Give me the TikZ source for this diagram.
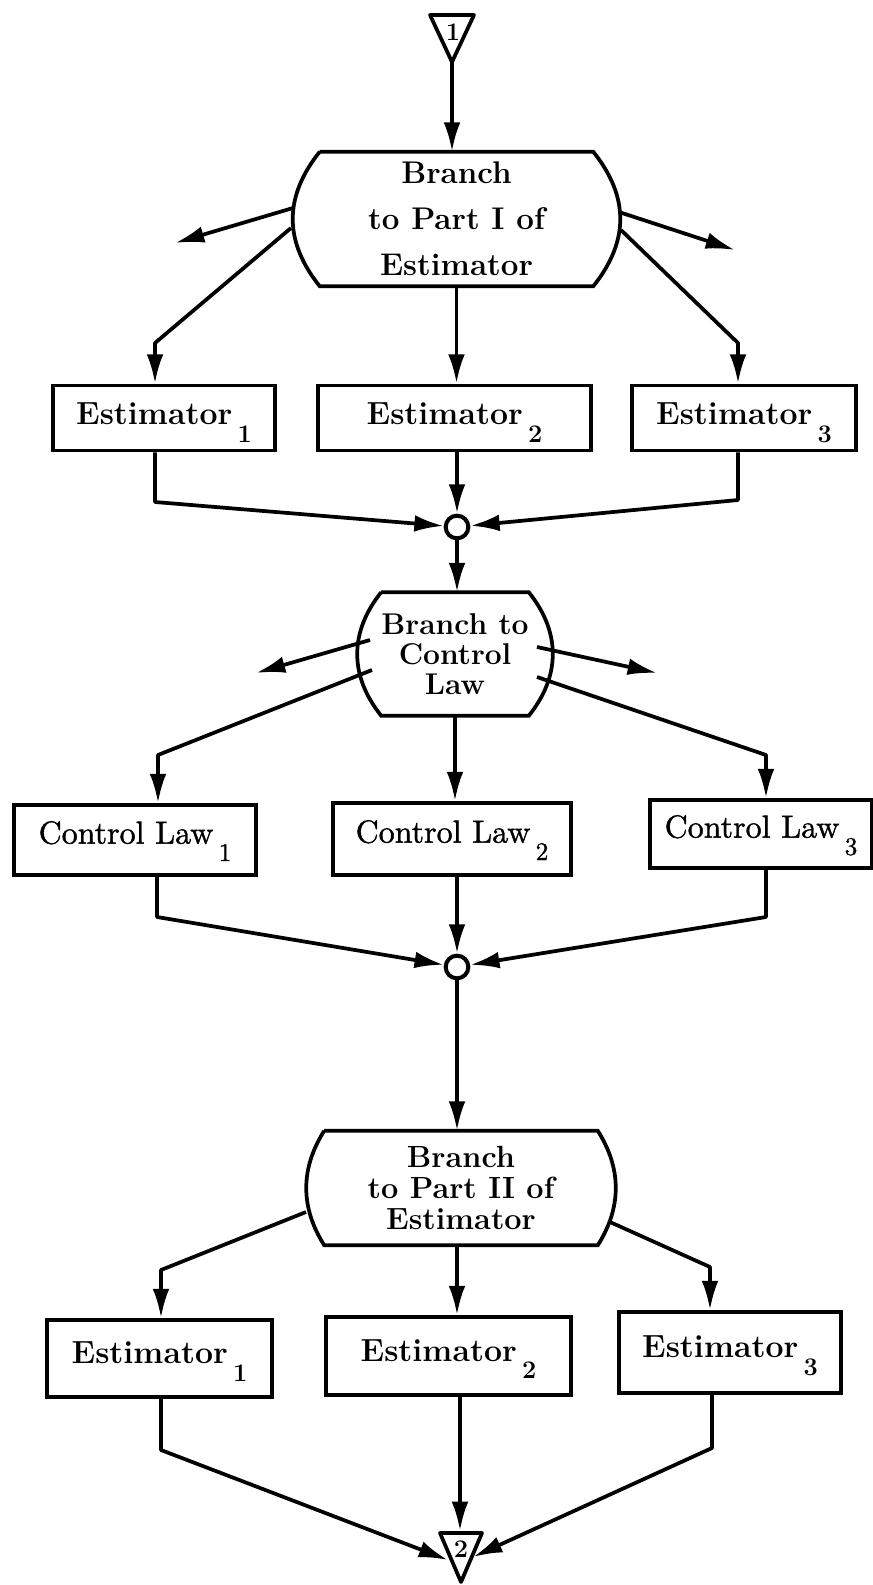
\documentclass[tikz,border=0pt]{standalone}
\usepackage{fontspec}
\newfontfamily\cfam{lmroman10-regular.otf}[FakeBold=1.2]
\usetikzlibrary{arrows.meta,calc}
\newcommand\lsub[1]{\hspace{4pt}\raisebox{-13pt}{\fontsize{19}{19}\selectfont #1}}
\tikzset{
  ln/.style={line width=2.8pt, line join=round},
  arr/.style={ln, -{Latex[length=22pt,width=12.5pt]}},
  box/.style={draw, line width=2.8pt, inner sep=0pt},
  brnode/.style={inner sep=0pt, align=center},
  efont/.style={font=\fontsize{24}{28}\selectfont\bfseries},
  cfont/.style={font=\fontsize{24}{28}\selectfont\cfam},
  junc/.style={circle, draw, line width=3pt, minimum size=17pt, inner sep=0pt},
}
\begin{document}
\begin{tikzpicture}[x=0.75pt,y=-0.75pt]
\useasboundingbox (0,0) rectangle (873,1585);

% top connector triangle
\coordinate (t1a) at (430,15);
\coordinate (t1b) at (474,15);
\coordinate (t1apex) at (452,62);
\draw[ln] (t1a) -- (t1b) -- (t1apex) -- cycle;
\node[font=\fontsize{19}{19}\selectfont\bfseries] (n1) at (453,32) {1};

% Branch 1
\node[brnode, minimum width=204.75pt, minimum height=100.5pt,
      font=\fontsize{23.5}{34.5}\selectfont\bfseries] (b1) at (456.5,219)
      {Branch\\to Part I of\\Estimator};
\draw[box] (b1.north west) -- (b1.north east)
  .. controls +(36,45) and +(36,-45) .. (b1.south east) -- (b1.south west)
  .. controls +(-36,-45) and +(-36,45) .. (b1.north west);

\draw[arr] (t1apex) -- (t1apex |- b1.north);

% Estimator row 1
\node[box, efont, minimum width=166.5pt, minimum height=48.75pt, text height=16pt, text depth=6pt] (e1a) at (164,418) {Estimator\lsub{1}};
\node[box, efont, minimum width=204.75pt, minimum height=48.75pt, text height=16pt, text depth=6pt] (e1b) at (454.5,418) {Estimator\lsub{2}};
\node[box, efont, minimum width=168pt, minimum height=48.75pt, text height=16pt, text depth=6pt] (e1c) at (744,418) {Estimator\lsub{3}};

\coordinate (b1L1) at (293,208);
\coordinate (b1Lend) at (175,243);
\coordinate (b1R1) at (619,212);
\coordinate (b1Rend) at (735,250);
\draw[arr] (b1L1) -- (b1Lend);
\draw[arr] (b1R1) -- (b1Rend);
\coordinate (b1L2) at (291,228);
\coordinate (k1a) at (155,343);
\coordinate (b1R2) at (621,230);
\coordinate (k1c) at (738,343);
\draw[arr] (b1L2) -- (k1a) -- (k1a |- e1a.north);
\draw[arr] (b1.south) -- (b1.south |- e1b.north);
\draw[arr] (b1R2) -- (k1c) -- (k1c |- e1c.north);

% junction 1
\node[junc] (j1) at (457,527) {};
\coordinate (m1a) at (155,502);
\coordinate (m1c) at (738,500);
\draw[arr] (m1a |- e1a.south) -- (m1a) -- (j1);
\draw[arr] (j1 |- e1b.south) -- (j1);
\draw[arr] (m1c |- e1c.south) -- (m1c) -- (j1);

% Branch 2
\node[brnode, minimum width=91.5pt, minimum height=92.25pt,
      font=\fontsize{22.5}{22.5}\selectfont\bfseries] (b2) at (455,654)
      {Branch to\\Control\\Law};
\draw[box] (b2.north west) -- (b2.north east)
  .. controls +(32,40) and +(32,-40) .. (b2.south east) -- (b2.south west)
  .. controls +(-32,-40) and +(-32,40) .. (b2.north west);
\draw[arr] (j1) -- (j1 |- b2.north);

% Control law row
\node[box, cfont, minimum width=181.5pt, minimum height=52.5pt, text height=16pt, text depth=10.5pt] (c1a) at (135,840) {Control Law\lsub{1}};
\node[box, cfont, minimum width=178.5pt, minimum height=54pt, text height=16pt, text depth=10.5pt] (c1b) at (452,839) {Control Law\lsub{2}};
\node[box, cfont, minimum width=166.5pt, minimum height=51pt, text height=16pt, text depth=10.5pt] (c1c) at (761,834) {Control Law\lsub{3}};

\coordinate (b2L1) at (370,640);
\coordinate (b2Lend) at (256,673);
\coordinate (b2R1) at (537,647);
\coordinate (b2Rend) at (657,673);
\draw[arr] (b2L1) -- (b2Lend);
\draw[arr] (b2R1) -- (b2Rend);
\coordinate (b2L2) at (372,670);
\coordinate (k2a) at (158,755);
\coordinate (b2R2) at (537,677);
\coordinate (k2c) at (766,755);
\draw[arr] (b2L2) -- (k2a) -- (k2a |- c1a.north);
\draw[arr] (b2.south) -- (b2.south |- c1b.north);
\draw[arr] (b2R2) -- (k2c) -- (k2c |- c1c.north);

% junction 2
\node[junc] (j2) at (457,967) {};
\coordinate (m2a) at (157,917);
\coordinate (m2c) at (766,917);
\draw[arr] (m2a |- c1a.south) -- (m2a) -- (j2);
\draw[arr] (j2 |- c1b.south) -- (j2);
\draw[arr] (m2c |- c1c.south) -- (m2c) -- (j2);

% Branch 3
\node[brnode, minimum width=204.75pt, minimum height=85.5pt,
      font=\fontsize{23}{23.25}\selectfont\bfseries] (b3) at (461,1188)
      {Branch\\to Part II of\\Estimator};
\draw[box] (b3.north west) -- (b3.north east)
  .. controls +(24,38) and +(24,-38) .. (b3.south east) -- (b3.south west)
  .. controls +(-24,-38) and +(-24,38) .. (b3.north west);
\draw[arr] (j2) -- (j2 |- b3.north);

% Estimator row 2
\node[box, efont, minimum width=168.75pt, minimum height=57.75pt, text height=16pt, text depth=8pt] (e2a) at (159.5,1358.5) {Estimator\lsub{1}};
\node[box, efont, minimum width=183.75pt, minimum height=58.5pt, text height=16pt, text depth=8pt] (e2b) at (448.5,1356) {Estimator\lsub{2}};
\node[box, efont, minimum width=166.5pt, minimum height=60.75pt, text height=16pt, text depth=8pt] (e2c) at (730,1352.5) {Estimator\lsub{3}};

\coordinate (b3L) at (306,1212);
\coordinate (k3a) at (161,1270);
\coordinate (b3R) at (610,1222);
\coordinate (k3c) at (710,1267);
\draw[arr] (b3L) -- (k3a) -- (k3a |- e2a.north);
\draw[arr] (j2 |- b3.south) -- (j2 |- e2b.north);
\draw[arr] (b3R) -- (k3c) -- (k3c |- e2c.north);

% bottom connector triangle
\coordinate (t2a) at (440,1533);
\coordinate (t2b) at (482,1533);
\coordinate (t2apex) at (461,1582);
\draw[ln] (t2a) -- (t2b) -- (t2apex) -- cycle;
\node[font=\fontsize{19}{19}\selectfont\bfseries] (n2) at (461,1549) {2};

\coordinate (t2L) at (448,1560);
\coordinate (t2R) at (473,1557);
\coordinate (t2top) at (460,1531);
\coordinate (m3a) at (161,1450);
\coordinate (m3c) at (712,1448);
\draw[arr] (m3a |- e2a.south) -- (m3a) -- (t2L);
\draw[arr] (t2top |- e2b.south) -- (t2top);
\draw[arr] (m3c |- e2c.south) -- (m3c) -- (t2R);
\end{tikzpicture}
\end{document}
